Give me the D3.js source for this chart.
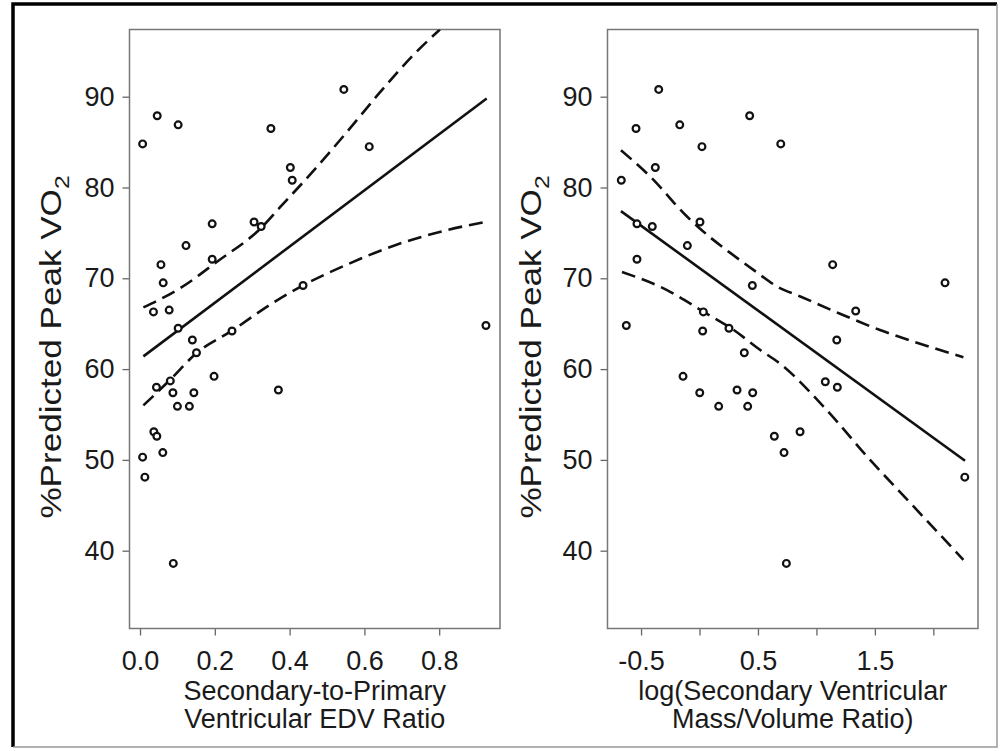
<!DOCTYPE html>
<html lang="en">
  <head>
    <meta charset="UTF-8" />
    <title>Peak VO2 scatter</title>
    <style>
      body { margin: 0; background: #fff; }
      svg text { font-family: "Liberation Sans", Arial, sans-serif; fill: #1a1a1a; }
    </style>
  </head>
  <body>
    <div class="chart"></div>

    <script src="https://d3js.org/d3.v7.min.js"></script>

    <script>
      // data ============================================================
      const yTicks = [40, 50, 60, 70, 80, 90];
      const edvTicks = [0, 0.2, 0.4, 0.6, 0.8];
      const mvTicks = [-0.5, 0, 0.5, 1, 1.5, 2];
      const mvTickLabels = ["-0.5", "", "0.5", "", "1.5", ""];

      // left panel: EDV ratio vs %predicted peak VO2
      const edvRatio = [0.007, 0.046, 0.102, 0.350, 0.545, 0.613, 0.402, 0.407, 0.193, 0.305, 0.324, 0.123, 0.193,
        0.056, 0.062, 0.436, 0.036, 0.078, 0.102, 0.246, 0.140, 0.151, 0.925, 0.198, 0.044, 0.081, 0.088, 0.144,
        0.100, 0.132, 0.370, 0.037, 0.045, 0.061, 0.007, 0.013, 0.089];
      const edvVO2 = [84.8, 87.9, 86.9, 86.5, 90.8, 84.5, 82.2, 80.8, 76.0, 76.2, 75.7, 73.6, 72.1,
        71.5, 69.5, 69.2, 66.3, 66.5, 64.5, 64.2, 63.2, 61.8, 64.8, 59.2, 58.0, 58.7, 57.4, 57.4,
        55.9, 55.9, 57.7, 53.1, 52.6, 50.8, 50.3, 48.1, 38.6];
      const edvFitX = [0.009, 0.927];
      const edvFitY = [61.4, 89.8];
      const edvUpperX = [0.009, 0.107, 0.205, 0.325, 0.374, 0.463, 0.553, 0.642, 0.731, 0.802];
      const edvUpperY = [66.8, 68.9, 71.8, 75.6, 77.8, 81.8, 86.1, 90.5, 94.6, 97.4];
      const edvLowerX = [0.009, 0.080, 0.152, 0.245, 0.348, 0.435, 0.553, 0.686, 0.820, 0.922];
      const edvLowerY = [56.0, 58.8, 61.8, 64.2, 67.1, 69.2, 71.5, 73.7, 75.3, 76.2];

      // right panel: log mass/volume ratio vs %predicted peak VO2
      const mvLog = [-0.349, -0.543, -0.169, 0.429, 0.021, 0.695, -0.378, -0.669, -0.535, -0.404, 0.004, -0.104,
        -0.535, 1.139, 2.100, 0.452, 1.336, 0.033, -0.626, 0.027, 0.252, 1.174, 0.383, -0.141, 1.076, 1.179,
        0.002, 0.321, 0.455, 0.164, 0.412, 0.640, 0.860, 0.723, 2.269, 0.743];
      const mvVO2 = [90.8, 86.5, 86.9, 87.9, 84.5, 84.8, 82.2, 80.8, 76.0, 75.7, 76.2, 73.6,
        72.1, 71.5, 69.5, 69.2, 66.4, 66.3, 64.8, 64.2, 64.5, 63.2, 61.8, 59.2, 58.6, 58.0,
        57.4, 57.7, 57.4, 55.9, 55.9, 52.6, 53.1, 50.8, 48.1, 38.6];
      const mvFitX = [-0.672, 2.271];
      const mvFitY = [77.4, 49.9];
      const mvUpperX = [-0.672, -0.421, -0.107, 0.064, 0.263, 0.464, 0.663, 0.862, 1.202, 1.544, 1.886, 2.257];
      const mvUpperY = [84.1, 81.2, 76.8, 74.8, 72.8, 70.9, 69.1, 68.0, 66.1, 64.3, 62.8, 61.3];
      const mvLowerX = [-0.663, -0.278, 0.036, 0.293, 0.520, 0.689, 1.059, 1.459, 1.829, 2.257];
      const mvLowerY = [70.7, 68.7, 66.3, 64.3, 62.1, 60.6, 55.9, 50.0, 44.9, 39.0];

      // svg =============================================================
      const W = 1000, H = 751;
      const svg = d3.select(".chart").append("svg").attr("width", W).attr("height", H);

      // outer frame
      svg.append("path")
        .attr("d", `M13,${H - 4} L13,4 L997,4`)
        .attr("fill", "none").attr("stroke", "#000").attr("stroke-width", 3.5);
      svg.append("path")
        .attr("d", `M997,4 L997,${H - 4} L13,${H - 4}`)
        .attr("fill", "none").attr("stroke", "#999").attr("stroke-width", 1.5);

      const plotTop = 29.5, plotBottom = 628.5;
      const y = d3.scaleLinear().domain([31.43, 97.4]).range([plotBottom, plotTop]);

      function panel(id, x0, x1, xDomain, xTicks, xFmt, xs, ys, fit, upper, lower, titleX, xTitle) {
        const x = d3.scaleLinear().domain(xDomain).range([x0, x1]);
        const g = svg.append("g");

        g.append("clipPath").attr("id", id)
          .append("rect").attr("x", x0).attr("y", plotTop).attr("width", x1 - x0).attr("height", plotBottom - plotTop);

        // axes
        const ay = g.append("g").attr("transform", `translate(${x0},0)`)
          .call(d3.axisLeft(y).tickValues(yTicks).tickSize(7).tickPadding(8));
        const ax = g.append("g").attr("transform", `translate(0,${plotBottom})`)
          .call(d3.axisBottom(x).tickValues(xTicks).tickFormat(xFmt).tickSize(7).tickPadding(15));
        [ay, ax].forEach((a) => {
          a.select(".domain").remove();
          a.selectAll("line").attr("stroke", "#666").attr("stroke-width", 1.3);
          a.selectAll("text").style("font-size", "27px").attr("fill", "#1a1a1a");
        });

        // box
        g.append("rect").attr("x", x0).attr("y", plotTop).attr("width", x1 - x0).attr("height", plotBottom - plotTop)
          .attr("fill", "none").attr("stroke", "#777").attr("stroke-width", 1.5);

        // lines
        const line = d3.line().x((d) => x(d[0])).y((d) => y(d[1])).curve(d3.curveMonotoneX);
        const lg = g.append("g").attr("clip-path", `url(#${id})`)
          .attr("fill", "none").attr("stroke", "#111").attr("stroke-width", 2.6);
        lg.append("path").attr("d", line(d3.zip(fit[0], fit[1])));
        [upper, lower].forEach((b) => {
          lg.append("path").attr("d", line(d3.zip(b[0], b[1]))).attr("stroke-dasharray", "14,7");
        });

        // points
        g.append("g").selectAll("circle")
          .data(d3.zip(xs, ys))
          .enter()
          .append("circle")
          .attr("cx", (d) => x(d[0]))
          .attr("cy", (d) => y(d[1]))
          .attr("r", 3.4)
          .attr("fill", "#fff")
          .attr("stroke", "#111")
          .attr("stroke-width", 2.2);

        // titles (the source figure is a little stretched vertically)
        const yt = g.append("text")
          .attr("transform", `translate(${titleX},347) rotate(-90) scale(1.17,1)`)
          .attr("text-anchor", "middle")
          .style("font-size", "30px");
        yt.append("tspan").text("%Predicted Peak VO");
        yt.append("tspan").text("2").attr("dy", 8).style("font-size", "21px");

        const cx = (x0 + x1) / 2;
        g.append("text").attr("x", cx).attr("y", 700).attr("text-anchor", "middle")
          .style("font-size", "27px").text(xTitle[0]);
        g.append("text").attr("x", cx).attr("y", 728).attr("text-anchor", "middle")
          .style("font-size", "27px").text(xTitle[1]);
      }

      panel("clipL", 129.5, 500, [-0.0281, 0.9626], edvTicks, d3.format(".1f"),
        edvRatio, edvVO2, [edvFitX, edvFitY], [edvUpperX, edvUpperY], [edvLowerX, edvLowerY],
        61, ["Secondary-to-Primary", "Ventricular EDV Ratio"]);

      panel("clipR", 607.5, 978, [-0.787, 2.382], mvTicks, (d, i) => mvTickLabels[i],
        mvLog, mvVO2, [mvFitX, mvFitY], [mvUpperX, mvUpperY], [mvLowerX, mvLowerY],
        541, ["log(Secondary Ventricular", "Mass/Volume Ratio)"]);
    </script>
  </body>
</html>
